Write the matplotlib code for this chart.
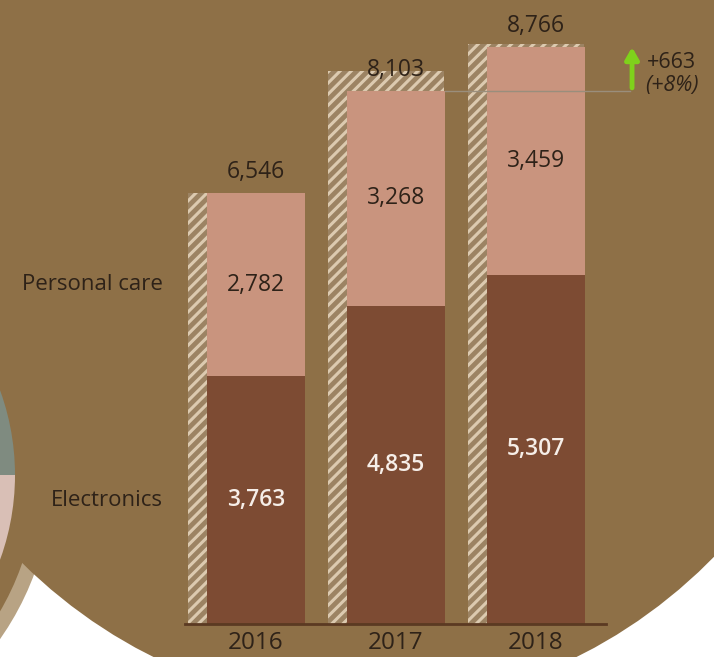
import matplotlib
matplotlib.use("Agg")
import matplotlib.pyplot as plt
from matplotlib.patches import Ellipse, Circle, Wedge

# data
years = ["2016", "2017", "2018"]
categories = ["Electronics", "Personal care"]
electronics = [3763, 4835, 5307]
personal_care = [2782, 3268, 3459]
totals = [6546, 8103, 8766]
hatched_ref = [6546, 8400, 8810]
delta_text = "+663"
delta_pct = "(+8%)"

# colours
BG = "#8e7047"
C_ELEC = "#7d4b33"
C_PERS = "#c9947e"
C_TEXT = "#2e2218"
FS = 16.5

plt.rcParams["font.family"] = ["Open Sans", "DejaVu Sans"]
plt.rcParams["hatch.linewidth"] = 2.2

fig = plt.figure(figsize=(7.14, 6.57), dpi=100, facecolor="white")

# =========================
# BACKGROUND SHAPES (pixel coords)
# =========================
bg = fig.add_axes([0, 0, 1, 1])
bg.set_xlim(0, 714)
bg.set_ylim(657, 0)
bg.axis("off")
cc = (-233, 475)
bg.add_patch(Circle(cc, 285, color="#b8a384", lw=0, zorder=1))
bg.add_patch(Circle(cc, 270, color=BG, lw=0, zorder=1))
bg.add_patch(Ellipse((365, 150), 1022, 1114, color=BG, lw=0, zorder=2))
# neighbouring circle peeking in at the left edge
bg.add_patch(Wedge(cc, 248, 180, 360, color="#7f8b80", lw=0, zorder=3))
bg.add_patch(Wedge(cc, 248, 0, 180, color="#d9bfb6", lw=0, zorder=3))

# =========================
# MAIN CHART
# =========================
ax = fig.add_axes([185 / 714, 33 / 657, 421 / 714, 624 / 657])
ax.patch.set_alpha(0)
x = list(range(len(years)))
w = 0.7

ax.bar([i - 0.486 for i in x], hatched_ref, width=0.83, align="edge",
       color="#9c8363", edgecolor="#dccab0", hatch="///", lw=0, zorder=1)
ax.bar(x, electronics, width=w, color=C_ELEC, lw=0, zorder=2)
ax.bar(x, personal_care, width=w, bottom=electronics, color=C_PERS, lw=0, zorder=2)

ax.set_xlim(-0.507, 2.5)
ax.set_ylim(0, 9480)

for i in x:
    ax.text(i, electronics[i] / 2, f"{electronics[i]:,}", ha="center", va="center",
            color="#f6eee8", fontsize=FS, fontweight="semibold", zorder=3)
    ax.text(i, electronics[i] + personal_care[i] / 2, f"{personal_care[i]:,}",
            ha="center", va="center", color=C_TEXT, fontsize=FS, zorder=3)
    ax.annotate(f"{totals[i]:,}", (i, totals[i]), xytext=(0, 15),
                textcoords="offset points", ha="center", va="center",
                color=C_TEXT, fontsize=FS, zorder=3)

# category labels next to first bar
ax.text(-0.664, electronics[0] / 2, categories[0], ha="right", va="center",
        color=C_TEXT, fontsize=16)
ax.text(-0.664, electronics[0] + personal_care[0] / 2, categories[1], ha="right",
        va="center", color=C_TEXT, fontsize=16)

# difference line + arrow
ax.plot([1 + w / 2, 2.67], [totals[1], totals[1]], color="#9a8e7c", lw=1,
        zorder=4, clip_on=False)
ax.annotate("", xy=(2.686, totals[2] + 40), xytext=(2.686, totals[1]),
            arrowprops=dict(arrowstyle="-|>,head_width=0.4,head_length=0.7",
                            color="#7fd11b", lw=3.5), annotation_clip=False)
ax.text(2.79, 8526, delta_text, ha="left", va="center", color=C_TEXT,
        fontsize=15.5, clip_on=False)
ax.text(2.782, 8176, delta_pct, ha="left", va="center", color=C_TEXT,
        fontsize=15.5, style="italic", clip_on=False)

# axes styling
for s in ["top", "right", "left"]:
    ax.spines[s].set_visible(False)
ax.spines["bottom"].set_color("#5b3a22")
ax.spines["bottom"].set_linewidth(2)
ax.set_yticks([])
ax.set_xticks(x)
ax.set_xticklabels(years, fontsize=17.5, color=C_TEXT)
ax.tick_params(axis="x", length=0, pad=5)

plt.savefig("out.png", dpi=100, facecolor="white")
